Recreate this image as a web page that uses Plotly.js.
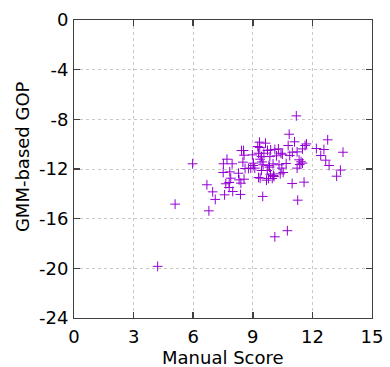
<!DOCTYPE html>
<html><head><meta charset="utf-8">
<script src="https://cdn.plot.ly/plotly-3.0.1.min.js"></script>
<style>html,body{margin:0;padding:0;background:#fff}#chart{width:390px;height:367px}</style>
</head><body><div id="chart"></div>
<script>
// Manual Score (x) vs GMM-based GOP (y)
const manualScore = [4.21,5.09,5.97,6.69,6.79,6.98,7.11,10.11,10.74,11.19,10.83,11.10,11.26,11.58,10.98,9.50,
 12.77,12.20,12.58,12.42,12.67,12.84,13.54,13.41,13.22,11.70,11.63,11.50,11.23,11.33,11.43,11.50,11.23,11.36,
 7.52,7.70,7.96,7.51,7.84,7.89,7.81,7.64,7.81,7.99,7.58,8.38,8.28,8.31,8.40,8.56,8.50,8.43,8.53,8.56,8.61,8.78,8.90,
 8.98,9.03,9.10,9.02,9.25,9.34,9.35,9.44,9.37,9.47,9.52,9.44,9.29,9.37,9.29,9.64,9.74,9.90,9.81,9.73,9.84,9.69,9.79,
 9.89,9.98,10.07,10.04,10.11,10.29,10.19,10.42,10.49,10.32,10.46,10.53,10.38,10.68,10.86,10.78,10.99,9.56,10.02,9.86];
const gmmGop = [-19.84,-14.83,-11.58,-13.27,-15.37,-13.84,-14.45,-17.46,-16.97,-7.72,-9.20,-9.81,-14.51,-13.06,-13.17,-14.21,
 -9.65,-10.35,-10.43,-10.91,-11.29,-11.72,-10.65,-12.09,-12.58,-9.98,-10.11,-10.38,-10.62,-11.26,-11.42,-11.53,-11.93,-11.64,
 -11.58,-11.21,-11.58,-12.28,-12.23,-12.74,-13.09,-13.19,-13.49,-13.81,-14.08,-14.05,-12.34,-12.87,-13.14,-12.82,-11.45,-10.51,-10.51,-10.89,-11.96,-11.96,-11.93,
 -10.86,-11.53,-11.93,-11.72,-10.19,-9.84,-10.27,-11.00,-11.21,-11.43,-11.66,-12.12,-12.68,-12.74,-10.73,-9.92,-10.51,-10.46,-11.72,-12.12,-11.85,-12.90,-12.76,
 -12.41,-12.76,-12.60,-12.52,-10.43,-10.38,-10.94,-10.73,-10.81,-11.66,-11.93,-12.28,-12.39,-11.56,-10.92,-10.11,-10.65,-10.73,-11.58,-11.00];
const xTicks = [0,3,6,9,12,15];
const yTicks = [0,-4,-8,-12,-16,-20,-24];

const font = "DejaVu Sans, Verdana, sans-serif";
const trace = {
  x: manualScore, y: gmmGop, type: 'scatter', mode: 'markers',
  marker: {symbol: 'cross-thin-open', size: 7, color: '#9400D3', line: {color: '#9400D3', width: 1}},
  hoverinfo: 'skip'
};
const axisCommon = {
  showline: true, mirror: 'ticks', linecolor: '#404040', linewidth: 1,
  ticks: 'inside', ticklen: 6, tickcolor: '#404040', tickwidth: 1.5,
  showgrid: true, gridcolor: '#c8c8c8', griddash: 'dot', gridwidth: 1,
  zeroline: false, tickfont: {family: font, size: 18, color: '#000'}
};
const layout = {
  width: 390, height: 367, margin: {l: 74, r: 18, t: 20, b: 49},
  paper_bgcolor: '#fff', plot_bgcolor: '#fff', showlegend: false,
  xaxis: Object.assign({}, axisCommon, {range: [0, 15], tickvals: xTicks, ticktext: xTicks.map(String), ticklabelstandoff: 2}),
  yaxis: Object.assign({}, axisCommon, {range: [-24, 0], tickvals: yTicks, ticktext: yTicks.map(String), ticklabelstandoff: 1}),
  annotations: [
    {text: 'Manual Score', xref: 'paper', yref: 'paper', x: 0.5, y: 0, yshift: -27, xanchor: 'center', yanchor: 'top', showarrow: false,
     font: {family: font, size: 18, color: '#000'}},
    {text: 'GMM-based GOP', xref: 'paper', yref: 'paper', x: 0, xshift: -52, y: 0.54, xanchor: 'center', yanchor: 'middle', textangle: -90, showarrow: false,
     font: {family: font, size: 18, color: '#000'}}
  ]
};
Plotly.newPlot('chart', [trace], layout, {staticPlot: true, displayModeBar: false});
</script>
</body></html>
